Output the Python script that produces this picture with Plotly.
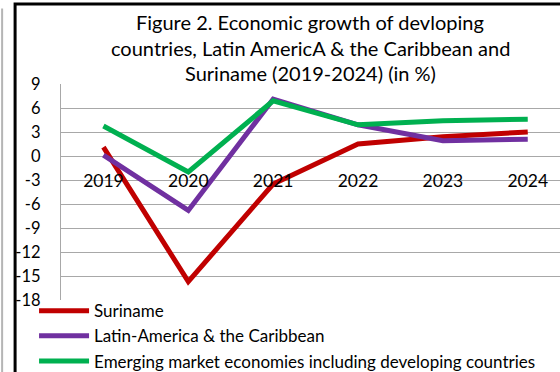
import plotly.graph_objects as go

# Annual real GDP growth, percent
years = ["2019", "2020", "2021", "2022", "2023", "2024"]
suriname = [1.1, -15.7, -3.5, 1.5, 2.4, 3.0]
latin_america = [0.1, -6.8, 7.1, 3.9, 1.9, 2.1]
emerging = [3.75, -2.0, 6.9, 3.9, 4.4, 4.6]

series_names = [
    "Suriname",
    "Latin-America & the Caribbean",
    "Emerging market economies including developing countries",
]
series_colors = ["#C00000", "#7030A0", "#00B050"]

y_ticks = [9, 6, 3, 0, -3, -6, -9, -12, -15, -18]
y_tick_labels = [str(v) for v in y_ticks]  # plain hyphen-minus

title_lines = [
    "Figure 2. Economic growth of devloping",
    "countries, Latin AmericA &amp; the Caribbean and",
    "Suriname (2019-2024) (in %)",
]

FONT = "Lato"
FS = 17.5

fig = go.Figure()
x_idx = list(range(len(years)))
for name, vals, col in zip(series_names, [suriname, latin_america, emerging], series_colors):
    fig.add_trace(go.Scatter(
        x=x_idx, y=vals, name=name, mode="lines",
        line=dict(color=col, width=5),
    ))

# Figure frame (left/top edges visible) and faint page rule on the far left
fig.add_shape(type="rect", xref="paper", yref="paper",
              x0=-0.092, x1=1.1, y0=-0.5, y1=1.370,
              line=dict(color="black", width=3), fillcolor="rgba(0,0,0,0)", layer="below")
fig.add_shape(type="line", xref="paper", yref="paper",
              x0=-0.118, x1=-0.118, y0=1.35, y1=-0.5,
              line=dict(color="#B5B5B5", width=2))

# Three-line chart heading
for text, yp in zip(title_lines, [1.287, 1.167, 1.051]):
    fig.add_annotation(text=text, xref="paper", yref="paper", x=0.499, y=yp,
                       xanchor="center", yanchor="middle", showarrow=False,
                       font=dict(family=FONT, size=20, color="black"))

fig.update_layout(
    width=560, height=372,
    margin=dict(l=61, r=0, t=84, b=72, autoexpand=False),
    paper_bgcolor="white", plot_bgcolor="white",
    font=dict(family=FONT, size=FS, color="black"),
    xaxis=dict(
        range=[-0.5, 5.38], tickvals=x_idx, ticktext=years,
        showgrid=False, showline=False, zeroline=False,
        anchor="free", position=18 / 27,
        ticks="", ticklabelstandoff=12,
        tickfont=dict(family=FONT, size=FS),
    ),
    yaxis=dict(
        range=[-18, 9], tickvals=y_ticks, ticktext=y_tick_labels, showgrid=True,
        gridcolor="#A8A8A8", gridwidth=1.3,
        zeroline=True, zerolinecolor="#A8A8A8", zerolinewidth=1.3,
        showline=True, linecolor="#A8A8A8", linewidth=1.3,
        ticks="", ticklabelstandoff=16,
        tickfont=dict(family=FONT, size=16.5),
    ),
    showlegend=True,
    legend=dict(
        x=-0.054, xanchor="left", yref="container", y=0.212, yanchor="top",
        orientation="v", bgcolor="rgba(0,0,0,0)",
        font=dict(family=FONT, size=17), tracegroupgap=0,
        itemwidth=50,
    ),
)

fig.write_html("out.html")
